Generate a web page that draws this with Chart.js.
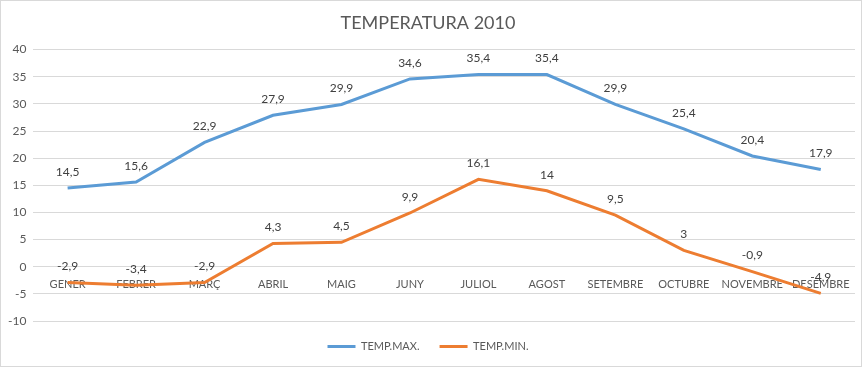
<!DOCTYPE html>
<html>
<head>
<meta charset="utf-8">
<script src="https://cdn.jsdelivr.net/npm/chart.js@4/dist/chart.umd.min.js"></script>
<style>
html,body{margin:0;padding:0;background:#fff;}
#wrap{position:absolute;left:0;top:0;width:860px;height:365px;border:1px solid #d9d9d9;}
</style>
</head>
<body>
<div id="wrap"><canvas id="c" width="860" height="365"></canvas></div>
<script>
const categories = ['GENER','FEBRER','MARÇ','ABRIL','MAIG','JUNY','JULIOL','AGOST','SETEMBRE','OCTUBRE','NOVEMBRE','DESEMBRE'];
const tempMax = [14.5, 15.6, 22.9, 27.9, 29.9, 34.6, 35.4, 35.4, 29.9, 25.4, 20.4, 17.9];
const tempMin = [-2.9, -3.4, -2.9, 4.3, 4.5, 9.9, 16.1, 14, 9.5, 3, -0.9, -4.9];
const seriesNames = ['TEMP.MAX.', 'TEMP.MIN.'];

const FONT = 'Lato, "Open Sans", sans-serif';
const TXT = '#595959';

const labelPlugin = {
  id: 'pointLabels',
  afterDatasetsDraw(chart) {
    const ctx = chart.ctx;
    ctx.save();
    ctx.font = '12px ' + FONT;
    ctx.fillStyle = '#404040';
    ctx.textAlign = 'center';
    ctx.textBaseline = 'middle';
    chart.data.datasets.forEach((ds, i) => {
      const meta = chart.getDatasetMeta(i);
      meta.data.forEach((pt, j) => {
        const v = ds.data[j];
        ctx.fillText(String(v).replace('.', ','), pt.x, pt.y - 16);
      });
    });
    ctx.restore();
  }
};

new Chart(document.getElementById('c'), {
  type: 'line',
  data: {
    labels: categories,
    datasets: [
      { label: seriesNames[0], data: tempMax, borderColor: '#5B9BD5', backgroundColor: '#5B9BD5', borderWidth: 3, pointRadius: 0, tension: 0 },
      { label: seriesNames[1], data: tempMin, borderColor: '#ED7D31', backgroundColor: '#ED7D31', borderWidth: 3, pointRadius: 0, tension: 0 }
    ]
  },
  options: {
    responsive: false,
    animation: false,
    layout: { padding: { left: 0, right: 6, top: 0, bottom: 4 } },
    plugins: {
      title: { display: true, text: 'TEMPERATURA 2010', color: TXT, font: { family: FONT, size: 18, weight: 'normal' }, padding: { top: 11, bottom: 16 } },
      legend: {
        position: 'bottom',
        labels: {
          color: TXT, font: { family: FONT, size: 11 },
          boxWidth: 28, boxHeight: 3, padding: 20,
          generateLabels(chart) {
            return chart.data.datasets.map((ds, i) => ({
              text: ds.label, fillStyle: ds.borderColor, strokeStyle: ds.borderColor, lineWidth: 0, datasetIndex: i, fontColor: TXT
            }));
          }
        }
      },
      tooltip: { enabled: false }
    },
    scales: {
      x: {
        position: { y: 0 },
        offset: true,
        grid: { display: false },
        border: { display: false },
        ticks: { color: TXT, font: { family: FONT, size: 11 }, maxRotation: 0, autoSkip: false, padding: 3 }
      },
      y: {
        min: -10, max: 40,
        ticks: { stepSize: 5, color: TXT, font: { family: FONT, size: 12 }, padding: 7 },
        grid: { color: '#d9d9d9', drawTicks: false },
        border: { display: false }
      }
    }
  },
  plugins: [labelPlugin]
});
</script>
</body>
</html>
